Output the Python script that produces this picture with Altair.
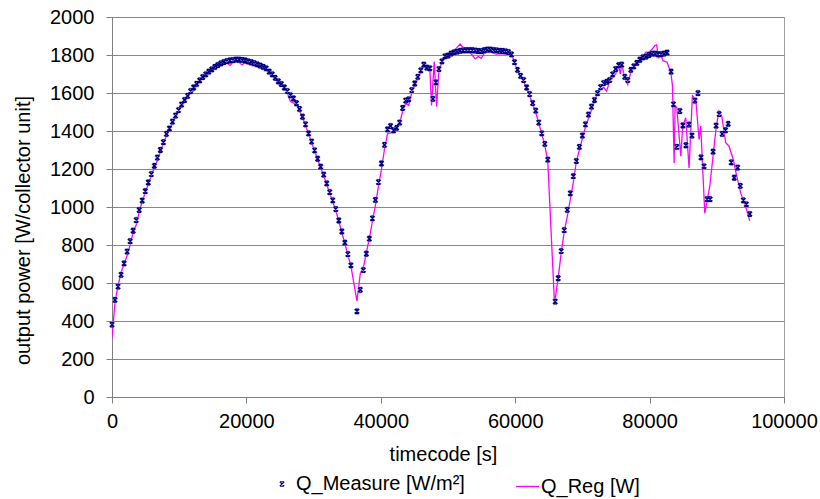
import altair as alt
import pandas as pd

# ---- data ----
measure_time = [
    0, 450, 900, 1350, 1800, 2250, 2700, 3150, 3600, 4050,
    4500, 4950, 5400, 5850, 6300, 6750, 7200, 7650, 8100, 8550,
    9000, 9450, 9900, 10350, 10800, 11250, 11700, 12150, 12600, 13050,
    13500, 13950, 14400, 14850, 15300, 15750, 16200, 16650, 17100, 17550,
    18000, 18450, 18900, 19350, 19800, 20250, 20700, 21150, 21600, 22050,
    22500, 22950, 23400, 23850, 24300, 24750, 25200, 25650, 26100, 26550,
    27000, 27450, 27900, 28350, 28800, 29250, 29700, 30150, 30600, 31050,
    31500, 31950, 32400, 32850, 33300, 33750, 34200, 34650, 35100, 35550,
    36450, 36950, 37400, 37850, 38300, 38750, 39200, 39650, 40100, 40550,
    41000, 41450, 41900, 42350, 42800, 43250, 43700, 44150, 44600, 45050,
    45500, 45950, 46400, 46850, 47300, 47750, 48200, 48650, 49100, 49550,
    50000, 50450, 50900, 51350, 51800, 52250, 52700, 53150, 53600, 54050,
    54500, 54950, 55400, 55850, 56300, 56750, 57200, 57650, 58100, 58550,
    59000, 59450, 59900, 60350, 60800, 61250, 61700, 62150, 62600, 63050,
    63500, 63950, 64400, 64850, 65950, 66400, 66850, 67300, 67750, 68200,
    68650, 69100, 69550, 70000, 70450, 70900, 71350, 71800, 72250, 72700,
    73150, 73600, 74050, 74500, 74950, 75400, 75850, 76300, 76750, 77200,
    77650, 78100, 78550, 79000, 79450, 79900, 80350, 80800, 81250, 81700,
    82150, 82600, 83200, 83550, 84050, 84500, 84950, 85400, 85850, 86300,
    86750, 87200, 87650, 88100, 88550, 89000, 89450, 89900, 90350, 90800,
    91300, 91700, 92150, 92600, 93100, 93500, 93950, 94400, 94900,
]
measure_value = [
    381, 511, 581, 643, 703, 765, 820, 875, 931, 984,
    1034, 1083, 1129, 1173, 1217, 1260, 1300, 1341, 1385, 1413,
    1449, 1481, 1510, 1539, 1563, 1585, 1610, 1629, 1648, 1666,
    1684, 1698, 1712, 1724, 1737, 1747, 1756, 1763, 1768, 1771,
    1773, 1776, 1775, 1774, 1771, 1767, 1763, 1757, 1751, 1744,
    1737, 1730, 1712, 1698, 1680, 1661, 1647, 1629, 1610, 1588,
    1571, 1546, 1516, 1475, 1435, 1387, 1344, 1298, 1254, 1212,
    1170, 1124, 1078, 1035, 989, 929, 871, 812, 752, 693,
    451, 564, 668, 754, 833, 940, 1037, 1131, 1229, 1327,
    1408, 1426, 1403, 1417, 1444, 1521, 1560, 1567, 1615, 1650,
    1685, 1719, 1749, 1733, 1730, 1569, 1656, 1726, 1767, 1793,
    1797, 1807, 1814, 1818, 1822, 1824, 1825, 1825, 1825, 1823,
    1821, 1820, 1825, 1828, 1828, 1826, 1824, 1822, 1821, 1819,
    1815, 1803, 1762, 1722, 1690, 1668, 1629, 1594, 1547, 1507,
    1444, 1388, 1332, 1249, 502, 625, 768, 878, 985, 1072,
    1162, 1242, 1316, 1376, 1435, 1486, 1528, 1563, 1599, 1631,
    1652, 1659, 1668, 1698, 1726, 1746, 1749, 1685, 1668, 1722,
    1740, 1758, 1775, 1788, 1791, 1800, 1807, 1807, 1804, 1804,
    1807, 1812, 1712, 1540, 1316, 1505, 1429, 1325, 1434, 1376,
    1560, 1599, 1261, 1214, 1041, 1041, 1291, 1428, 1489, 1385,
    1404, 1438, 1235, 1154, 1207, 1111, 1035, 1014, 963,
]

reg_time = [
    0, 450, 900, 1350, 1800, 2250, 2700, 3150, 3600, 4050,
    4500, 4950, 5400, 5850, 6300, 6750, 7200, 7650, 8100, 8550,
    9000, 9450, 9900, 10350, 10800, 11250, 11700, 12150, 12600, 13050,
    13500, 13950, 14400, 14850, 15300, 15750, 16200, 16650, 17100, 17550,
    18000, 18450, 18900, 19350, 19800, 20250, 20700, 21150, 21600, 22050,
    22500, 22950, 23400, 23850, 24300, 24750, 25200, 25650, 26100, 26550,
    27000, 27450, 27900, 28350, 28800, 29250, 29700, 30150, 30600, 31050,
    31500, 31950, 32400, 32850, 33300, 33750, 34200, 34650, 35100, 35550,
    36450, 36950, 37400, 37850, 38300, 38750, 39200, 39650, 40100, 40550,
    41000, 41450, 41900, 42350, 42800, 43250, 43700, 44150, 44600, 45050,
    45500, 45950, 46400, 46850, 47300, 47550, 47950, 48300, 48650, 49100,
    49550, 50000, 50450, 50900, 51350, 51800, 52250, 52700, 53150, 53600,
    54050, 54500, 54950, 55400, 55850, 56300, 56750, 57200, 57650, 58100,
    58550, 59000, 59450, 59900, 60350, 60800, 61250, 61700, 62150, 62600,
    63050, 63500, 63950, 64400, 64850, 65850, 66400, 66850, 67300, 67750,
    68200, 68650, 69100, 69550, 70000, 70450, 70900, 71350, 71800, 72250,
    72700, 73150, 73600, 74050, 74500, 74950, 75400, 75650, 75850, 76300,
    76750, 77200, 77650, 78100, 78550, 79000, 79450, 79900, 80350, 80800,
    81050, 81300, 81700, 82000, 82600, 83150, 83400, 83650, 83800, 84050,
    84640, 84930, 85380, 85870, 86370, 86870, 87360, 87610, 88210, 88950,
    89440, 89930, 90330, 90730, 91330, 91820, 92460, 92810, 93560, 94300,
    94900,
]
reg_value = [
    310, 500, 585, 655, 700, 745, 800, 868, 905, 975,
    1030, 1075, 1120, 1165, 1205, 1245, 1290, 1335, 1375, 1405,
    1440, 1472, 1500, 1530, 1555, 1578, 1600, 1612, 1640, 1660,
    1677, 1690, 1705, 1718, 1730, 1740, 1747, 1752, 1758, 1745,
    1760, 1770, 1762, 1748, 1760, 1752, 1745, 1742, 1745, 1738,
    1730, 1722, 1705, 1690, 1675, 1645, 1642, 1625, 1600, 1555,
    1548, 1540, 1505, 1470, 1430, 1385, 1340, 1295, 1250, 1208,
    1165, 1118, 1072, 1028, 980, 925, 866, 808, 745, 690,
    505, 650, 680, 760, 835, 925, 1010, 1110, 1200, 1305,
    1385, 1390, 1395, 1410, 1440, 1505, 1545, 1535, 1600, 1640,
    1675, 1710, 1745, 1728, 1725, 1535, 1765, 1528, 1720, 1760,
    1790, 1800, 1812, 1825, 1840, 1858, 1840, 1830, 1815, 1800,
    1780, 1792, 1782, 1810, 1815, 1818, 1808, 1805, 1806, 1806,
    1805, 1806, 1805, 1760, 1715, 1688, 1660, 1622, 1585, 1540,
    1500, 1440, 1385, 1325, 1240, 490, 630, 760, 870, 950,
    1040, 1130, 1240, 1300, 1360, 1420, 1465, 1510, 1555, 1600,
    1615, 1630, 1610, 1660, 1680, 1700, 1740, 1700, 1752, 1680,
    1645, 1710, 1735, 1750, 1770, 1790, 1815, 1815, 1830, 1850,
    1853, 1785, 1795, 1770, 1762, 1708, 1640, 1232, 1532, 1523,
    1267, 1426, 1470, 1205, 1585, 1567, 1355, 1426, 967, 1108,
    1267, 1426, 1505, 1479, 1338, 1320, 1249, 1187, 1073, 1002,
    927,
]

x_ticks = [0, 20000, 40000, 60000, 80000, 100000]
y_ticks = [0, 200, 400, 600, 800, 1000, 1200, 1400, 1600, 1800, 2000]

measure_name = "Q_Measure [W/m²]"
reg_name = "Q_Reg [W]"

df_m = pd.DataFrame({"t": measure_time, "v": measure_value, "s": measure_name})
df_r = pd.DataFrame({"t": reg_time, "v": reg_value, "s": reg_name})

FONT = "Liberation Sans"
marker_path = "M-1,-1L1,1M1,-1L-1,1M-0.8,-1L0.8,-1M-0.8,1L0.8,1"

x_enc = alt.X(
    "t:Q",
    scale=alt.Scale(domain=[0, 100000], nice=False, zero=False),
    axis=alt.Axis(
        values=x_ticks, format="d", grid=False, title="timecode [s]",
        titleX=331, titleY=63, titleAlign="center", titleBaseline="alphabetic",
        labelPadding=8, labelFlush=False, labelOverlap=False,
    ),
)
y_enc = alt.Y(
    "v:Q",
    scale=alt.Scale(domain=[0, 2000], nice=False),
    axis=alt.Axis(
        values=y_ticks, format="d", grid=True, tickCount=11,
        title="output power [W/collector unit]",
        titleX=-83, titleY=213, titleAngle=-90, titleAlign="center",
        titleBaseline="alphabetic", labelPadding=12,
        labelOverlap=False, labelFlush=False,
    ),
)

line = alt.Chart(df_r).mark_line(strokeWidth=1.3, clip=True).encode(
    x=x_enc,
    y=y_enc,
    color=alt.Color(
        "s:N",
        scale=alt.Scale(domain=[reg_name], range=["#ff00ff"]),
        legend=alt.Legend(
            title=None, orient="none", legendX=403, legendY=457,
            symbolType="stroke", symbolSize=529, symbolStrokeWidth=1.3,
            labelOffset=1, labelFont=FONT, labelFontSize=20, labelColor="#000000",
            labelLimit=400, padding=0,
        ),
    ),
)

halo = alt.Chart(df_m).mark_point(
    shape=marker_path, filled=False, size=20, strokeWidth=2.6,
    color="#b4b4ec", opacity=0.6,
).encode(x="t:Q", y="v:Q")

points = alt.Chart(df_m).mark_point(
    shape=marker_path, filled=False, size=20, strokeWidth=1.3, opacity=1,
).encode(
    x="t:Q",
    y="v:Q",
    color=alt.Color(
        "s:N",
        scale=alt.Scale(domain=[measure_name], range=["#000080"]),
        legend=alt.Legend(
            title=None, orient="none", legendX=160, legendY=457,
            symbolType=marker_path, symbolSize=20, symbolStrokeWidth=1.1,
            labelOffset=4, labelFont=FONT, labelFontSize=20, labelColor="#000000",
            labelLimit=400, padding=0,
        ),
    ),
)

chart = (
    alt.layer(line, halo, points)
    .resolve_scale(color="independent")
    .properties(
        width=672,
        height=380,
        autosize=alt.AutoSizeParams(type="none"),
        padding={"left": 112, "top": 17, "right": 36, "bottom": 102},
        background="#ffffff",
    )
    .configure_view(stroke="#a0a0a0", strokeWidth=1)
    .configure_axis(
        labelFont=FONT, labelFontSize=20, labelColor="#000000",
        titleFont=FONT, titleFontSize=20, titleFontWeight="normal", titleColor="#000000",
        domainColor="#808080", domainWidth=1, tickColor="#808080", tickSize=6,
        tickWidth=1, gridColor="#888888", gridWidth=1,
    )
)

chart.save("out.html", embed_options={"renderer": "svg", "actions": False})
